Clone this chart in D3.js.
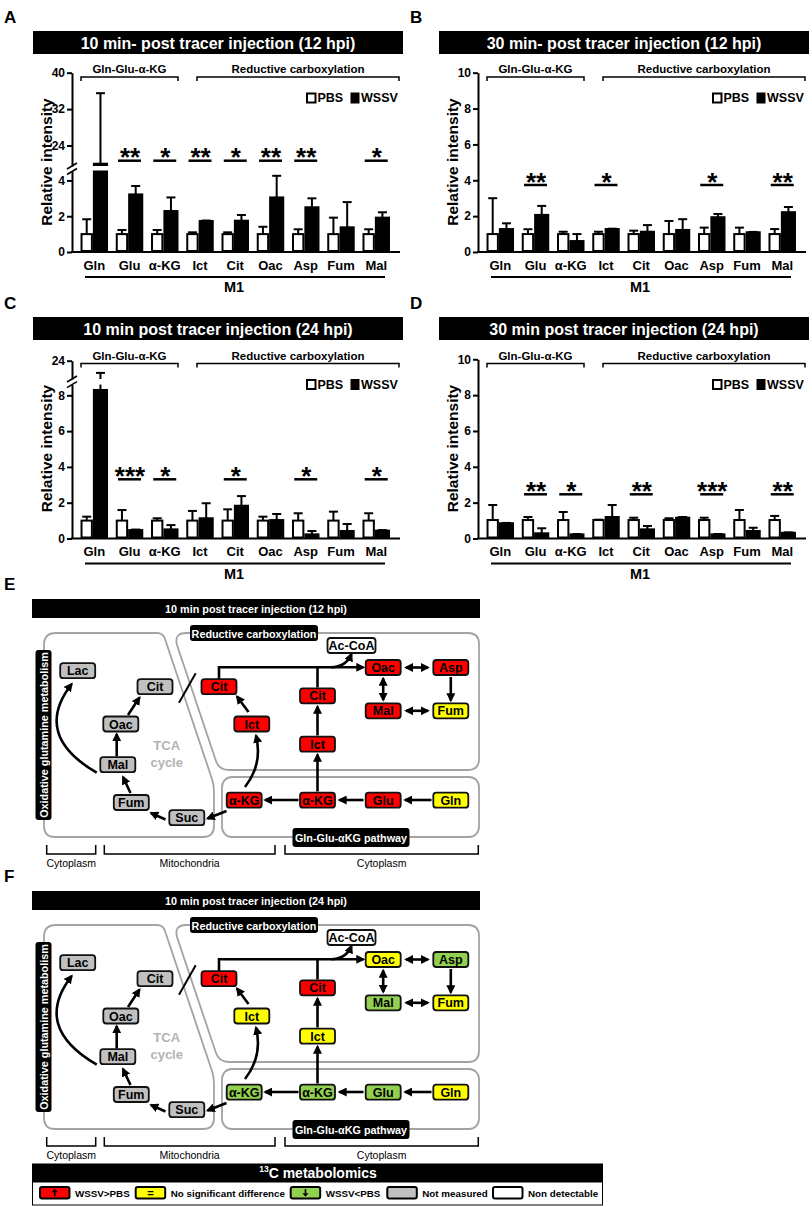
<!DOCTYPE html>
<html><head><meta charset="utf-8">
<script src="https://cdn.jsdelivr.net/npm/d3@7"></script>
<style>body{margin:0;background:#fff} svg{display:block} text{font-family:"Liberation Sans",Arial,Helvetica,sans-serif}</style>
</head><body><svg id="c" width="812" height="1207"></svg>
<script>
// ---------------- DATA ----------------
const categories = ["Gln","Glu","α-KG","Ict","Cit","Oac","Asp","Fum","Mal"];
const seriesNames = ["PBS","WSSV"];
const groupLabels = ["Gln-Glu-α-KG","Reductive carboxylation"];

// Panel A: 10 min (12 hpi)  -- error values are mean+SD tops
const pbsA     = [1,1,1,1,1,1,1,1,1];
const pbsTopA  = [1.83,1.23,1.23,1.1,1.1,1.41,1.27,1.92,1.27];
const wssvA    = [20,3.22,2.29,1.73,1.75,3.05,2.5,1.38,1.92];
const wssvTopA = [35.5,3.69,3.05,1.76,2.07,4.26,3.0,2.79,2.22];
const sigA     = ["","**","*","**","*","**","**","","*"];

// Panel B: 30 min (12 hpi)
const pbsB     = [1,1,1,1,1,1,1,1,1];
const pbsTopB  = [3.0,1.27,1.13,1.13,1.19,1.73,1.36,1.36,1.28];
const wssvB    = [1.28,2.07,0.61,1.28,1.13,1.23,1.94,1.1,2.22];
const wssvTopB = [1.6,2.57,1.0,1.3,1.5,1.83,2.12,1.12,2.51];
const sigB     = ["","**","","*","","","*","","**"];

// Panel C: 10 min (24 hpi)
const pbsC     = [1,1,1,1,1,1,1,1,1];
const pbsTopC  = [1.22,1.59,1.13,1.54,1.63,1.22,1.41,1.5,1.41];
const wssvC    = [8.3,0.47,0.51,1.13,1.83,1.03,0.23,0.42,0.44];
const wssvTopC = [14,0.5,0.75,1.97,2.37,1.37,0.42,0.81,0.47];
const sigC     = ["","***","*","","*","","*","","*"];

// Panel D: 30 min (24 hpi)
const pbsD     = [1.03,1.03,1.03,1.03,1.03,1.03,1.03,1.03,1.03];
const pbsTopD  = [1.87,1.2,1.48,1.05,1.16,1.13,1.16,1.59,1.26];
const wssvD    = [0.85,0.29,0.23,1.2,0.51,1.16,0.23,0.42,0.32];
const wssvTopD = [0.87,0.57,0.25,1.87,0.7,1.2,0.25,0.6,0.34];
const sigD     = ["","**","*","","**","","***","","**"];

// Pathway maps
const nodeIds    = ["lac","citL","oacL","malL","fumL","suc","akg1","akg2","glu","gln","ict1","cit1","ict2","cit2","oac","asp","mal","fum","acoa"];
const nodeNames  = ["Lac","Cit","Oac","Mal","Fum","Suc","α-KG","α-KG","Glu","Gln","Ict","Cit","Ict","Cit","Oac","Asp","Mal","Fum","Ac-CoA"];
const statusE    = ["nm","nm","nm","nm","nm","nm","up","up","up","eq","up","up","up","up","up","up","up","eq","nd"];
const statusF    = ["nm","nm","nm","nm","nm","nm","down","down","down","eq","eq","up","eq","up","eq","down","down","eq","nd"];
const legendStatus = ["up","eq","down","nm","nd"];
const legendLabels = ["WSSV>PBS","No significant difference","WSSV<PBS","Not measured","Non detectable"];
const compartments = ["Cytoplasm","Mitochondria","Cytoplasm"];

// ---------------- DRAW ----------------
const svg = d3.select("#c");
const statusFill = {up:"#ff0000", eq:"#ffff00", down:"#92d050", nm:"#c0c0c0", nd:"#ffffff"};

const defs = svg.append("defs");
defs.append("marker").attr("id","ah").attr("viewBox","0 0 10 10").attr("refX",8).attr("refY",5)
  .attr("markerWidth",9).attr("markerHeight",9).attr("markerUnits","userSpaceOnUse")
  .attr("orient","auto-start-reverse")
  .append("path").attr("d","M0,0 L10,5 L0,10 Z").attr("fill","#000");

function txt(g, x, y, s, size, o = {}) {
  return g.append("text").attr("x", x).attr("y", y).text(s)
    .attr("font-size", size).attr("font-weight", o.weight || "bold")
    .attr("text-anchor", o.anchor || "middle").attr("fill", o.fill || "#000")
    .attr("dominant-baseline", o.base || "central");
}

function drawPanel(cfg) {
  const {ox, dy, letter, title, pbs, pbsTop, wssv, wssvTop, sig, segs} = cfg;
  const g = svg.append("g");
  const ax = ox + 72;
  txt(g, ox + 4, 17 + dy, letter, 17, {anchor:"start"});
  g.append("rect").attr("x", ox + 33).attr("y", cfg.titleY).attr("width", 370).attr("height", 23).attr("fill", "#000");
  txt(g, ox + 218, cfg.titleY + 12, title, 16, {fill:"#fff"});

  const x = d3.scaleBand().domain(categories).range([ox + 77, ox + 393.5]).paddingInner(0.22).paddingOuter(0.1);
  const bw = x.bandwidth(), pw = bw * 0.45, ww = bw * 0.55;

  segs.forEach(s => { s.scale = d3.scaleLinear().domain(s.domain).range(s.range); });
  const y0 = segs[0].scale(0);

  segs.forEach(s => {
    const a = g.append("g").attr("transform", `translate(${ax},0)`)
      .call(d3.axisLeft(s.scale).tickValues(s.ticks).tickSize(5).tickSizeOuter(0).tickPadding(2).tickFormat(d3.format("d")));
    a.attr("font-family", null).attr("font-size", null);
    a.select(".domain").attr("stroke-width", 2).attr("stroke", "#000");
    a.selectAll(".tick line").attr("stroke-width", 2).attr("stroke", "#000");
    a.selectAll(".tick text").attr("font-size", 12).attr("font-weight", "bold").attr("fill", "#000");
  });
  if (segs.length > 1) {
    const yb = segs[0].range[1], yt = segs[1].range[0];
    [yt, yb].forEach(yy => g.append("line").attr("x1", ax - 5).attr("x2", ax + 5)
      .attr("y1", yy + 3).attr("y2", yy - 3).attr("stroke", "#000").attr("stroke-width", 1.6));
  }
  g.append("line").attr("x1", ax - 1).attr("x2", ox + 400).attr("y1", y0).attr("y2", y0)
    .attr("stroke", "#000").attr("stroke-width", 2);

  function spans(lo, hi) {
    const out = [];
    segs.forEach(s => {
      const a = Math.max(lo, s.domain[0]), b = Math.min(hi, s.domain[1]);
      if (b > a) out.push({sc: s.scale, a, b});
    });
    return out;
  }
  function bar(cx0, w, v, top, fill) {
    spans(0, v).forEach(sp => {
      const yTop = sp.sc(sp.b), yBot = sp.sc(sp.a);
      if (fill === "#fff") {
        g.append("rect").attr("x", cx0 + 1).attr("y", yTop).attr("width", w - 2).attr("height", Math.max(0, yBot - yTop - 1))
          .attr("fill", "#fff").attr("stroke", "#000").attr("stroke-width", 2);
      } else {
        g.append("rect").attr("x", cx0).attr("y", yTop - 1).attr("width", w).attr("height", Math.max(0, yBot - yTop + 1))
          .attr("fill", "#000");
      }
    });
    const cx = cx0 + w / 2;
    spans(v, top).forEach(sp => {
      g.append("line").attr("x1", cx).attr("x2", cx).attr("y1", sp.sc(sp.a)).attr("y2", sp.sc(sp.b))
        .attr("stroke", "#000").attr("stroke-width", 2);
      if (sp.b === top) g.append("line").attr("x1", cx - 4.5).attr("x2", cx + 4.5).attr("y1", sp.sc(top)).attr("y2", sp.sc(top))
        .attr("stroke", "#000").attr("stroke-width", 2);
    });
  }
  categories.forEach((c, i) => {
    const b0 = x(c);
    bar(b0, pw, pbs[i], pbsTop[i], "#fff");
    bar(b0 + pw, ww, wssv[i], wssvTop[i], "#000");
    const gc = b0 + bw / 2;
    if (sig[i]) {
      g.append("line").attr("x1", gc - 11.5).attr("x2", gc + 11.5).attr("y1", cfg.sigY).attr("y2", cfg.sigY)
        .attr("stroke", "#000").attr("stroke-width", 2.5);
      txt(g, gc + 0.5, cfg.starY + 14, sig[i], 26, {base:"alphabetic"});
    }
    txt(g, gc, cfg.xlabY, c, 13);
  });

  g.append("line").attr("x1", ox + 85).attr("x2", ox + 385).attr("y1", cfg.m1Y).attr("y2", cfg.m1Y)
    .attr("stroke", "#000").attr("stroke-width", 2);
  txt(g, ox + 234, cfg.m1Y + 10, "M1", 14.5);

  const br = [[ox + 81, ox + 178], [ox + 197, ox + 399]];
  br.forEach((b, i) => {
    g.append("path").attr("d", `M${b[0]},${cfg.brY + 4}V${cfg.brY}H${b[1]}V${cfg.brY + 4}`)
      .attr("fill", "none").attr("stroke", "#000").attr("stroke-width", 1.5);
    txt(g, (b[0] + b[1]) / 2, cfg.brY - 8, groupLabels[i], 11.5);
  });

  g.append("rect").attr("x", ox + 307).attr("y", cfg.legY - 4.5).attr("width", 8.5).attr("height", 9)
    .attr("fill", "#fff").attr("stroke", "#000").attr("stroke-width", 2);
  txt(g, ox + 317.5, cfg.legY, seriesNames[0], 12.5, {anchor:"start"});
  g.append("rect").attr("x", ox + 350.5).attr("y", cfg.legY - 5.5).attr("width", 9).attr("height", 11).attr("fill", "#000");
  txt(g, ox + 361, cfg.legY, seriesNames[1], 12.5, {anchor:"start"});

  txt(g, 0, 0, "Relative intensity", 15.5).attr("transform", `translate(${ox + 46},${cfg.yTitleY}) rotate(-90)`);
}

const dC = 286.5;
const baseA = {titleY:31, sigY:160.7, starY:152, xlabY:265, m1Y:277, brY:77, legY:98, yTitleY:162};
function lay(dy, extra) {
  const o = {};
  Object.keys(baseA).forEach(k => o[k] = baseA[k] + dy);
  return Object.assign(o, extra);
}
drawPanel(Object.assign(lay(0, {}), {ox:0, dy:0, letter:"A", title:"10 min- post tracer injection (12 hpi)",
  pbs:pbsA, pbsTop:pbsTopA, wssv:wssvA, wssvTop:wssvTopA, sig:sigA,
  segs:[{domain:[0,4.5], range:[252,171.5], ticks:[0,2,4]}, {domain:[19.5,40], range:[166,72.7], ticks:[24,32,40]}]}));
drawPanel(Object.assign(lay(0, {sigY:185, starY:176.5}), {ox:406, dy:0, letter:"B", title:"30 min- post tracer injection (12 hpi)",
  pbs:pbsB, pbsTop:pbsTopB, wssv:wssvB, wssvTop:wssvTopB, sig:sigB,
  segs:[{domain:[0,10], range:[252,72.7], ticks:[0,2,4,6,8,10]}]}));
drawPanel(Object.assign(lay(dC, {titleY:317, sigY:479.3, starY:471}), {ox:0, dy:dC, letter:"C", title:"10 min post tracer injection (24 hpi)",
  pbs:pbsC, pbsTop:pbsTopC, wssv:wssvC, wssvTop:wssvTopC, sig:sigC,
  segs:[{domain:[0,8.6], range:[538.5,384.6], ticks:[0,2,4,6,8]}, {domain:[9,24], range:[379,360.7], ticks:[24]}]}));
drawPanel(Object.assign(lay(dC, {titleY:317, sigY:494.3, starY:486}), {ox:406, dy:dC, letter:"D", title:"30 min post tracer injection (24 hpi)",
  pbs:pbsD, pbsTop:pbsTopD, wssv:wssvD, wssvTop:wssvTopD, sig:sigD,
  segs:[{domain:[0,10], range:[538.5,359.3], ticks:[0,2,4,6,8,10]}]}));

// ---------------- PATHWAY ----------------
const nodePos = {
  lac:[77.7,670.7], citL:[155,686.7], oacL:[120.8,724], malL:[117.8,764.7], fumL:[131.3,802.5], suc:[186.8,817.7],
  akg1:[244.2,800.2], akg2:[317.5,800.2], glu:[383.2,800.2], gln:[450.8,800.2],
  ict1:[251.8,724], cit1:[219,686.7], ict2:[317.5,744.2], cit2:[317.5,695.8],
  oac:[383.2,667.5], asp:[450.8,667.5], mal:[383.2,710.8], fum:[450.8,710.8], acoa:[351.5,645.5]
};
const arrows = [
  {d:"M96.7,772.7 Q32,735 71.7,684", e:1},
  {d:"M116.7,756.5 L116.7,734", e:1},
  {d:"M128,715 L139.5,697.5", e:1},
  {d:"M130.5,793 L123,777", e:1},
  {d:"M165.5,819.5 L151,813", e:1},
  {d:"M226.5,811 L207.5,818.5", e:1},
  {d:"M298.5,800 L265,800", e:1},
  {d:"M363.5,800 L339.5,800", e:1},
  {d:"M431.5,800 L405,800", e:1},
  {d:"M317.5,791.5 L317.5,754.5", e:1},
  {d:"M317.5,735.5 L317.5,706.5", e:1},
  {d:"M317.5,687.5 L317.5,667.3", e:0},
  {d:"M219,679 L219,667.3 L363.5,667.3", e:1},
  {d:"M331,667.3 Q346,667 351.5,654", e:1},
  {d:"M245,787 Q263,764 256,735.5", e:1},
  {d:"M248.5,712 L237,696.5", e:1},
  {d:"M406,667.5 L428,667.5", s:1, e:1},
  {d:"M383.2,678.5 L383.2,700", s:1, e:1},
  {d:"M450.8,677 L450.8,700.5", e:1},
  {d:"M406,710.8 L428,710.8", s:1, e:1}
];

function drawPathway(dy, status, title, letter) {
  const g = svg.append("g").attr("transform", `translate(0,${dy})`);
  txt(g, 4, 584, letter, 17, {anchor:"start"});
  g.append("rect").attr("x", 32).attr("y", 599).attr("width", 448).attr("height", 19).attr("fill", "#000");
  txt(g, 256, 609, title, 10.8, {fill:"#fff"});

  const cs = "#a3a3a3";
  g.append("path").attr("d", "M44,645 Q44,633 56,633 L157,633 Q163,633 165,639 L212,779 Q214,785 214,792 L214,826 Q214,837 203,837 L55,837 Q44,837 44,826 Z")
    .attr("fill", "none").attr("stroke", cs).attr("stroke-width", 1.8);
  g.append("path").attr("d", "M186,633 L468,633 Q479,633 479,644 L479,759 Q479,770 468,770 L229,770 Q219,770 216,761 L177,645 Q174,633 186,633 Z")
    .attr("fill", "none").attr("stroke", cs).attr("stroke-width", 1.8);
  g.append("rect").attr("x", 222).attr("y", 777).attr("width", 257).attr("height", 60).attr("rx", 10)
    .attr("fill", "none").attr("stroke", cs).attr("stroke-width", 1.8);

  g.append("rect").attr("x", 190).attr("y", 625).attr("width", 128).attr("height", 16).attr("rx", 3).attr("fill", "#000");
  txt(g, 254, 633.5, "Reductive carboxylation", 10.8, {fill:"#fff"});
  g.append("rect").attr("x", 292.5).attr("y", 828).attr("width", 117).attr("height", 19).attr("rx", 3).attr("fill", "#000");
  txt(g, 351, 837.5, "Gln-Glu-αKG pathway", 10.8, {fill:"#fff"});
  g.append("rect").attr("x", 35.5).attr("y", 650).attr("width", 16).attr("height", 170).attr("rx", 3).attr("fill", "#000");
  txt(g, 0, 0, "Oxidative glutamine metabolism", 10.8, {fill:"#fff"}).attr("transform", "translate(44,735) rotate(-90)");

  txt(g, 166.7, 745, "TCA", 13, {fill:"#b3b3b3"});
  txt(g, 166.7, 762, "cycle", 13, {fill:"#b3b3b3"});

  g.append("line").attr("x1", 179).attr("y1", 702.7).attr("x2", 195.7).attr("y2", 673.3).attr("stroke", "#000").attr("stroke-width", 2);

  arrows.forEach(a => {
    const p = g.append("path").attr("d", a.d).attr("fill", "none").attr("stroke", "#000").attr("stroke-width", 2.6);
    if (a.e) p.attr("marker-end", "url(#ah)");
    if (a.s) p.attr("marker-start", "url(#ah)");
  });

  nodeIds.forEach((id, i) => {
    const [cx, cy] = nodePos[id];
    const w = id === "acoa" ? 48 : 35, h = 15;
    g.append("rect").attr("x", cx - w / 2).attr("y", cy - h / 2).attr("width", w).attr("height", h).attr("rx", 3)
      .attr("fill", statusFill[status[i]]).attr("stroke", "#111").attr("stroke-width", 1.8);
    txt(g, cx, cy + 0.5, nodeNames[i], 12.5);
  });

  const brs = [[46.7, 95.7], [104.3, 275], [285, 478.3]];
  brs.forEach((b, i) => {
    g.append("path").attr("d", `M${b[0]},845V854H${b[1]}V845`).attr("fill", "none").attr("stroke", "#000").attr("stroke-width", 1.5);
    txt(g, (b[0] + b[1]) / 2, 862.5, compartments[i], 10.5, {weight:"normal"});
  });
}
drawPathway(0, statusE, "10 min post tracer injection (12 hpi)", "E");
drawPathway(292, statusF, "10 min post tracer injection (24 hpi)", "F");

// ---------------- LEGEND ----------------
const lg = svg.append("g");
lg.append("rect").attr("x", 32).attr("y", 1163.5).attr("width", 571).attr("height", 18.5).attr("fill", "#000");
const lt = lg.append("text").attr("x", 318).attr("y", 1172.7).attr("text-anchor", "middle").attr("dominant-baseline", "central")
  .attr("font-weight", "bold").attr("fill", "#fff").attr("font-size", 14);
lt.append("tspan").text("13").attr("font-size", 8.5).attr("dy", -4);
lt.append("tspan").text("C metabolomics").attr("dy", 4);
lg.append("rect").attr("x", 32.5).attr("y", 1182).attr("width", 570).attr("height", 23).attr("fill", "#fff").attr("stroke", "#000").attr("stroke-width", 1);
const swX = [40, 135.7, 290.7, 387.3, 493];
legendStatus.forEach((s, i) => {
  const x0 = swX[i], yc = 1192.7;
  lg.append("rect").attr("x", x0).attr("y", yc - 5.8).attr("width", 29.5).attr("height", 11.6).attr("rx", 2)
    .attr("fill", statusFill[s]).attr("stroke", "#000").attr("stroke-width", 2);
  const cx = x0 + 14.75;
  if (s === "up" || s === "down") {
    const dir = s === "up" ? -1 : 1;
    lg.append("line").attr("x1", cx).attr("x2", cx).attr("y1", yc - dir * 3.5).attr("y2", yc + dir * 0.5).attr("stroke", "#000").attr("stroke-width", 1.6);
    lg.append("path").attr("d", `M${cx - 3},${yc + dir * 0.5} L${cx + 3},${yc + dir * 0.5} L${cx},${yc + dir * 4} Z`).attr("fill", "#000");
  } else if (s === "eq") {
    txt(lg, cx, yc + 0.5, "=", 11);
  }
  txt(lg, x0 + 35, yc + 0.3, legendLabels[i], 9.8, {anchor:"start"});
});
</script></body></html>
